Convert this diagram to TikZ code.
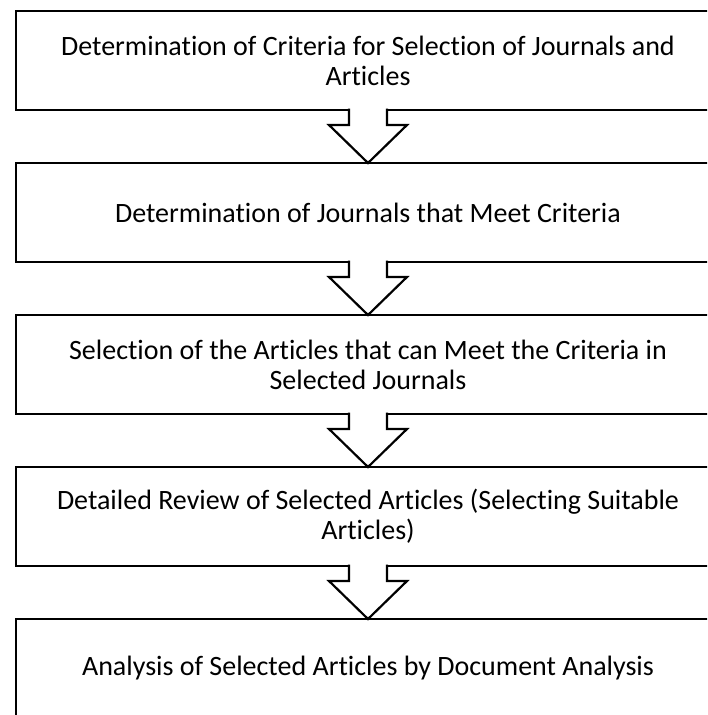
\documentclass[tikz,border=0pt]{standalone}
\usepackage{fontspec}
\setmainfont{Carlito}[Ligatures=NoCommon]
\usetikzlibrary{positioning,calc}
\tikzset{
  stepbox/.style={draw, line width=2.8pt, outer sep=0pt, inner sep=0pt,
    minimum width=704pt, minimum height=99pt, align=center,
    font=\fontsize{28}{30}\selectfont},
  blockarrow/.style={line width=2.2pt, line join=miter}
}
% hollow arrow from the bottom of box #1 to the top of box #2
\newcommand{\hollowarrow}[2]{%
  \fill[white] ($(#1.south)+(-19,2)$) -- ($(#1.south)+(-19,-15)$) -- ($(#1.south)+(-39,-15)$)
    -- (#2.north) -- ($(#1.south)+(39,-15)$) -- ($(#1.south)+(19,-15)$) -- ($(#1.south)+(19,2)$) -- cycle;%
  \draw[blockarrow] ($(#1.south)+(-19,1.4)$) -- ($(#1.south)+(-19,-15)$) -- ($(#1.south)+(-39,-15)$)
    -- (#2.north) -- ($(#1.south)+(39,-15)$) -- ($(#1.south)+(19,-15)$) -- ($(#1.south)+(19,1.4)$);%
}
\begin{document}
\begin{tikzpicture}[x=1pt, y=1pt, node distance=53pt]
                \useasboundingbox (0,0) rectangle (707,715);
                \clip (0,0) rectangle (707,715);
                
                % Drawing the five boxes
                \node [stepbox] (crit) at (368,654.5) {Determination of Criteria for Selection of Journals and\\Articles};
                \node [stepbox, below=of crit] (jour) {Determination of Journals that Meet Criteria};
                \node [stepbox, below=of jour] (sel) {Selection of the Articles that can Meet the Criteria in\\Selected Journals};
                \node [stepbox, below=of sel] (rev) {Detailed Review of Selected Articles (Selecting Suitable\\Articles)};
                \node [stepbox, below=of rev] (anal) {Analysis of Selected Articles by Document Analysis};
                
                % Drawing the arrows between the boxes
                \hollowarrow{crit}{jour}
                \hollowarrow{jour}{sel}
                \hollowarrow{sel}{rev}
                \hollowarrow{rev}{anal}
\end{tikzpicture}
\end{document}
